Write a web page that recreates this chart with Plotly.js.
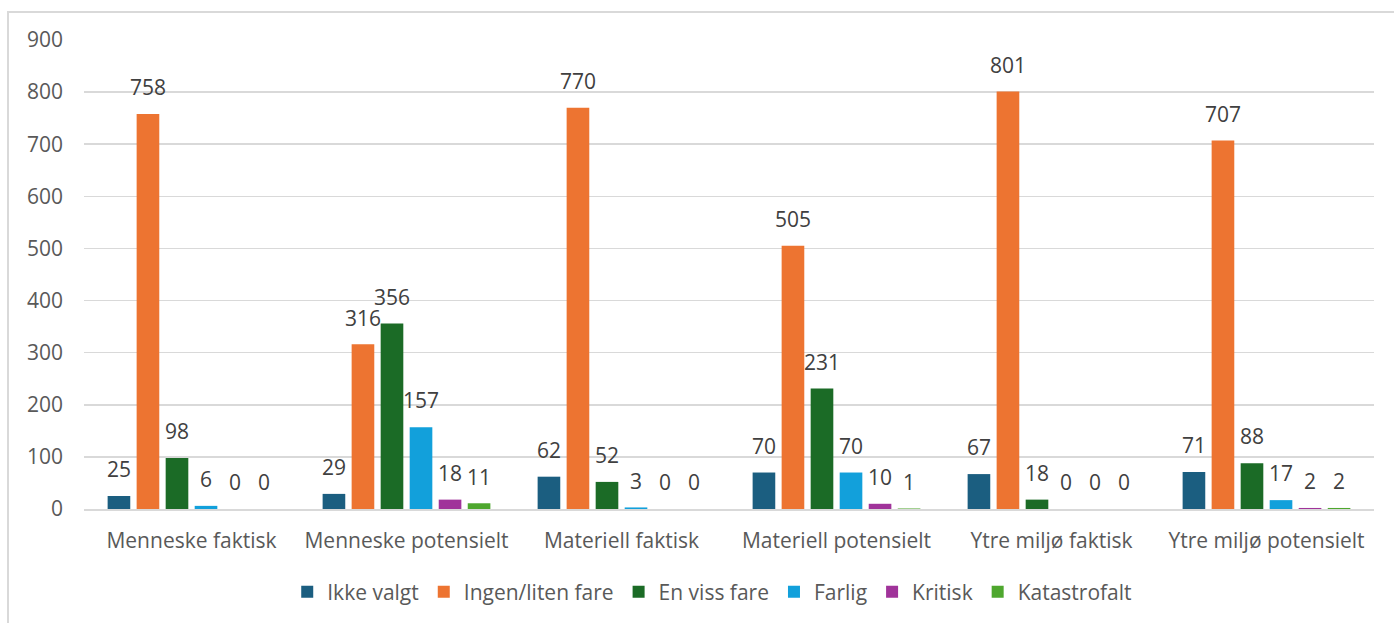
<!DOCTYPE html>
<html>
<head>
<meta charset="utf-8">
<script src="https://cdn.plot.ly/plotly-3.0.1.min.js"></script>
<style>
  html, body { margin: 0; padding: 0; background: #ffffff; overflow: hidden; }
  #frame { position: absolute; left: 7px; top: 11px; width: 1400px; height: 700px;
           border-left: 2px solid #D9D9D9; border-top: 2px solid #D9D9D9; }
  #chart { position: absolute; left: 0; top: 0; width: 1394px; height: 623px; }
</style>
</head>
<body>
<div id="frame"></div>
<div id="chart"></div>
<script>
// Incident categories along the x axis
const categories = [
  "Menneske faktisk", "Menneske potensielt", "Materiell faktisk",
  "Materiell potensielt", "Ytre miljø faktisk", "Ytre miljø potensielt"
];

// Severity levels (one series each)
const ikkeValgt      = [25, 29, 62, 70, 67, 71];
const ingenLitenFare = [758, 316, 770, 505, 801, 707];
const enVissFare     = [98, 356, 52, 231, 18, 88];
const farlig         = [6, 157, 3, 70, 0, 17];
const kritisk        = [0, 18, 0, 10, 0, 2];
const katastrofalt   = [0, 11, 0, 1, 0, 2];

const seriesNames  = ["Ikke valgt", "Ingen/liten fare", "En viss fare", "Farlig", "Kritisk", "Katastrofalt"];
const seriesValues = [ikkeValgt, ingenLitenFare, enVissFare, farlig, kritisk, katastrofalt];
const seriesColors = ["#1B5E80", "#ED7431", "#1B6B26", "#12A0DB", "#A0339A", "#4EA72E"];

const yTicks = [0, 100, 200, 300, 400, 500, 600, 700, 800, 900];

const FONT = "'Open Sans', 'Noto Sans', 'Liberation Sans', sans-serif";
const FS = 21;

// Bars
const bars = seriesNames.map((name, i) => ({
  type: "bar",
  name: name,
  x: categories,
  y: seriesValues[i],
  offsetgroup: "g" + i,
  alignmentgroup: "all",
  marker: { color: seriesColors[i], line: { width: 0 } },
  hoverinfo: "x+y+name"
}));

// Value labels, grouped in the same slots as the bars
const labels = seriesNames.map((name, i) => ({
  type: "scatter",
  mode: "markers+text",
  name: name,
  showlegend: false,
  x: categories,
  y: seriesValues[i],
  offsetgroup: "g" + i,
  alignmentgroup: "all",
  marker: { size: 20, opacity: 0 },
  text: seriesValues[i].map(String),
  textposition: "top center",
  cliponaxis: false,
  textfont: { family: FONT, size: FS, color: "#404040" },
  hoverinfo: "skip"
}));

const layout = {
  width: 1394,
  height: 623,
  paper_bgcolor: "rgba(0,0,0,0)",
  plot_bgcolor: "rgba(0,0,0,0)",
  margin: { l: 84, r: 20, t: 40, b: 114, autoexpand: false },
  barmode: "group",
  scattermode: "group",
  bargap: 0.19,
  bargroupgap: 0.22,
  font: { family: FONT, size: FS, color: "#595959" },
  xaxis: {
    type: "category",
    showgrid: false,
    showline: true,
    linecolor: "#D9D9D9",
    linewidth: 2,
    ticks: "",
    ticklabelstandoff: 12,
    tickfont: { family: FONT, size: FS, color: "#595959" },
    fixedrange: true
  },
  yaxis: {
    range: [0, 900],
    tickvals: yTicks,
    ticktext: yTicks.map(String),
    showgrid: true,
    gridcolor: "#D9D9D9",
    gridwidth: 1.5,
    zeroline: false,
    showline: false,
    ticks: "",
    ticklabelstandoff: 20,
    tickfont: { family: FONT, size: FS, color: "#595959" },
    fixedrange: true
  },
  legend: {
    orientation: "h",
    x: 0.487,
    xanchor: "center",
    y: -0.177,
    yanchor: "middle",
    font: { family: FONT, size: FS, color: "#595959" },
    itemwidth: 30,
    tracegroupgap: 0
  },
  showlegend: true
};

Plotly.newPlot("chart", bars.concat(labels), layout, { displayModeBar: false, staticPlot: true });
</script>
</body>
</html>
